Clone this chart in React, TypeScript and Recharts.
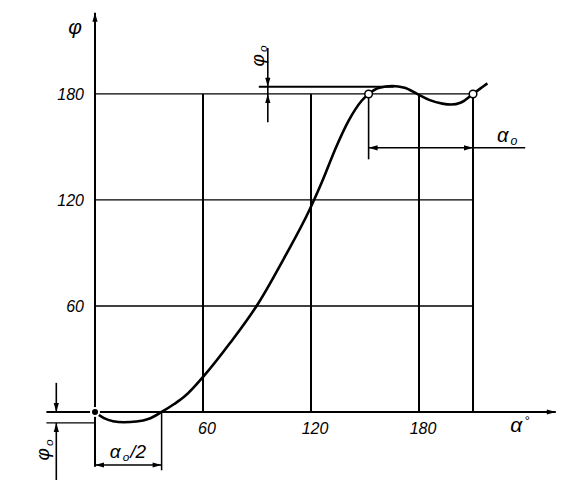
import { ComposedChart, Line, XAxis, YAxis, ReferenceLine, ReferenceDot } from "recharts";

// curve phi(alpha), degrees
const alphaDeg = [0, 5, 10, 16, 23, 30, 37, 44, 50, 61, 75, 91, 105, 119, 126, 134, 141, 148, 152, 158, 165, 172, 179, 186, 193, 198, 203, 210, 214, 218];
const phiDeg = [0, -3.5, -5.2, -5.8, -5.4, -3.8, 0, 4.5, 9, 21, 39, 62, 87, 114, 130, 150, 165, 176, 180, 183.5, 184.5, 183.5, 180, 176.5, 174.5, 174, 175, 180, 183, 186];

const xTicks = [60, 120, 180];
const yTicks = [60, 120, 180];
const gridX = [60, 120, 180, 210];
const gridY = [60, 120, 180];
const alpha0 = [152, 210]; // curve returns to 180 here (open circles)
const halfAlpha0 = [0, 37];
const phi0Top = 184;
const phi0Bottom = -6.2;

const data = alphaDeg.map((a, i) => ({ a, p: phiDeg[i] }));

const FONT = "'Liberation Sans Narrow', 'Liberation Sans', sans-serif";
const INK = "#000";

type Pts = { x1?: number; y1?: number; x2?: number; y2?: number; stroke?: string; strokeWidth?: number };

function arrowHead(x1: number, y1: number, x2: number, y2: number) {
  const len = Math.hypot(x2 - x1, y2 - y1) || 1;
  const ux = (x2 - x1) / len;
  const uy = (y2 - y1) / len;
  const l = 9;
  const w = 2.6;
  const bx = x2 - ux * l;
  const by = y2 - uy * l;
  return `${x2},${y2} ${bx - uy * w},${by + ux * w} ${bx + uy * w},${by - ux * w}`;
}

const arrowLine = (start: boolean, end: boolean) => (p: Pts) => {
  const { x1 = 0, y1 = 0, x2 = 0, y2 = 0 } = p;
  return (
    <g>
      <line x1={x1} y1={y1} x2={x2} y2={y2} stroke={INK} strokeWidth={p.strokeWidth ?? 1.5} />
      {end && <polygon points={arrowHead(x1, y1, x2, y2)} fill={INK} />}
      {start && <polygon points={arrowHead(x2, y2, x1, y1)} fill={INK} />}
    </g>
  );
};

type TextOpts = {
  size?: number;
  anchor?: "start" | "middle" | "end";
  rotate?: number;
  dx?: number;
  dy?: number;
  sup?: boolean;
  tail?: string;
};

const textShape =
  (main: string, sub?: string, opts: TextOpts = {}) =>
  (p: { cx?: number; cy?: number }) => {
    const cx = (p.cx ?? 0) + (opts.dx ?? 0);
    const cy = (p.cy ?? 0) + (opts.dy ?? 0);
    const size = opts.size ?? 16;
    const shift = opts.sup ? -size * 0.35 : size * 0.18;
    return (
      <text
        x={cx}
        y={cy}
        dy="0.35em"
        textAnchor={opts.anchor ?? "middle"}
        fontFamily={FONT}
        fontStyle="italic"
        fontSize={size}
        fill={INK}
        transform={opts.rotate ? `rotate(${opts.rotate} ${cx} ${cy})` : undefined}
      >
        {main}
        {sub && (
          <tspan fontSize={size * 0.62} dx={2} dy={shift}>
            {sub}
          </tspan>
        )}
        {opts.tail && (
          <tspan fontSize={size} dx={1} dy={-shift}>
            {opts.tail}
          </tspan>
        )}
      </text>
    );
  };

export default function App() {
  return (
    <div style={{ position: "absolute", left: 0, top: 0, background: "#fff" }}>
      <ComposedChart width={587} height={481} data={data} margin={{ top: 0, right: 0, bottom: 0, left: 0 }}>
        <XAxis dataKey="a" type="number" domain={[-52.78, 273.33]} allowDataOverflow hide />
        <YAxis type="number" domain={[-39.05, 233.16]} allowDataOverflow hide />

        {gridY.map((v) => (
          <ReferenceLine key={`h${v}`} segment={[{ x: 0, y: v }, { x: 210, y: v }]} stroke={INK} strokeWidth={1.3} />
        ))}
        {gridX.map((v) => (
          <ReferenceLine key={`v${v}`} segment={[{ x: v, y: 0 }, { x: v, y: 180 }]} stroke={INK} strokeWidth={2} />
        ))}

        {/* axes */}
        <ReferenceLine segment={[{ x: 0, y: -31 }, { x: 0, y: 226 }]} shape={arrowLine(false, true)} strokeWidth={2} />
        <ReferenceLine segment={[{ x: -27, y: 0 }, { x: 256, y: 0 }]} shape={arrowLine(false, true)} strokeWidth={2} />

        {/* alpha0 dimension */}
        <ReferenceLine segment={[{ x: alpha0[0], y: 180 }, { x: alpha0[0], y: 143 }]} stroke={INK} strokeWidth={1.6} />
        <ReferenceLine segment={[{ x: alpha0[0], y: 149.5 }, { x: alpha0[1], y: 149.5 }]} shape={arrowLine(true, true)} strokeWidth={1.5} />
        <ReferenceLine segment={[{ x: alpha0[1], y: 149.5 }, { x: 239, y: 149.5 }]} stroke={INK} strokeWidth={1.5} />

        {/* phi0 at the top */}
        <ReferenceLine segment={[{ x: 91, y: phi0Top }, { x: 166, y: phi0Top }]} stroke={INK} strokeWidth={2} />
        <ReferenceLine segment={[{ x: 96, y: 206 }, { x: 96, y: phi0Top }]} shape={arrowLine(false, true)} strokeWidth={1.6} />
        <ReferenceLine segment={[{ x: 96, y: 164 }, { x: 96, y: 180 }]} shape={arrowLine(false, true)} strokeWidth={1.6} />
        <ReferenceLine segment={[{ x: 96, y: phi0Top }, { x: 96, y: 180 }]} stroke={INK} strokeWidth={1.6} />

        {/* phi0 at the bottom */}
        <ReferenceLine segment={[{ x: -27, y: phi0Bottom }, { x: 0, y: phi0Bottom }]} stroke={INK} strokeWidth={1.3} />
        <ReferenceLine segment={[{ x: -21.5, y: 16.5 }, { x: -21.5, y: 0 }]} shape={arrowLine(false, true)} strokeWidth={1.6} />
        <ReferenceLine segment={[{ x: -21.5, y: -38.5 }, { x: -21.5, y: phi0Bottom }]} shape={arrowLine(false, true)} strokeWidth={1.6} />

        {/* alpha0/2 dimension */}
        <ReferenceLine segment={[{ x: halfAlpha0[1], y: 0 }, { x: halfAlpha0[1], y: -33 }]} stroke={INK} strokeWidth={1.5} />
        <ReferenceLine segment={[{ x: halfAlpha0[0], y: -30 }, { x: halfAlpha0[1], y: -30 }]} shape={arrowLine(true, true)} strokeWidth={1.4} />

        <Line type="monotone" dataKey="p" stroke={INK} strokeWidth={2.6} dot={false} isAnimationActive={false} />

        {alpha0.map((a) => (
          <ReferenceDot key={`c${a}`} x={a} y={180} r={3.8} fill="#fff" stroke={INK} strokeWidth={1.5} />
        ))}

        {yTicks.map((v) => (
          <ReferenceDot key={`yt${v}`} x={0} y={v} r={0} shape={textShape(String(v), undefined, { anchor: "end", dx: -11 })} />
        ))}
        {xTicks.map((v) => (
          <ReferenceDot key={`xt${v}`} x={v} y={0} r={0} shape={textShape(String(v), undefined, { dx: 4, dy: 16 })} />
        ))}

        <ReferenceDot x={-11} y={218} r={0} shape={textShape("φ", undefined, { size: 21 })} />
        <ReferenceDot x={236} y={-7.4} r={0} shape={textShape("α", "°", { size: 21, sup: true })} />
        <ReferenceDot x={229} y={157} r={0} shape={textShape("α", "o", { size: 20 })} />
        <ReferenceDot x={90} y={201.5} r={0} shape={textShape("φ", "o", { size: 19, rotate: -90 })} />
        <ReferenceDot x={-29} y={-21.5} r={0} shape={textShape("φ", "o", { size: 19, rotate: -90 })} />
        <ReferenceDot x={18.3} y={-22} r={0} shape={textShape("α", "o", { size: 19, tail: "/2" })} />
      </ComposedChart>
    </div>
  );
}
